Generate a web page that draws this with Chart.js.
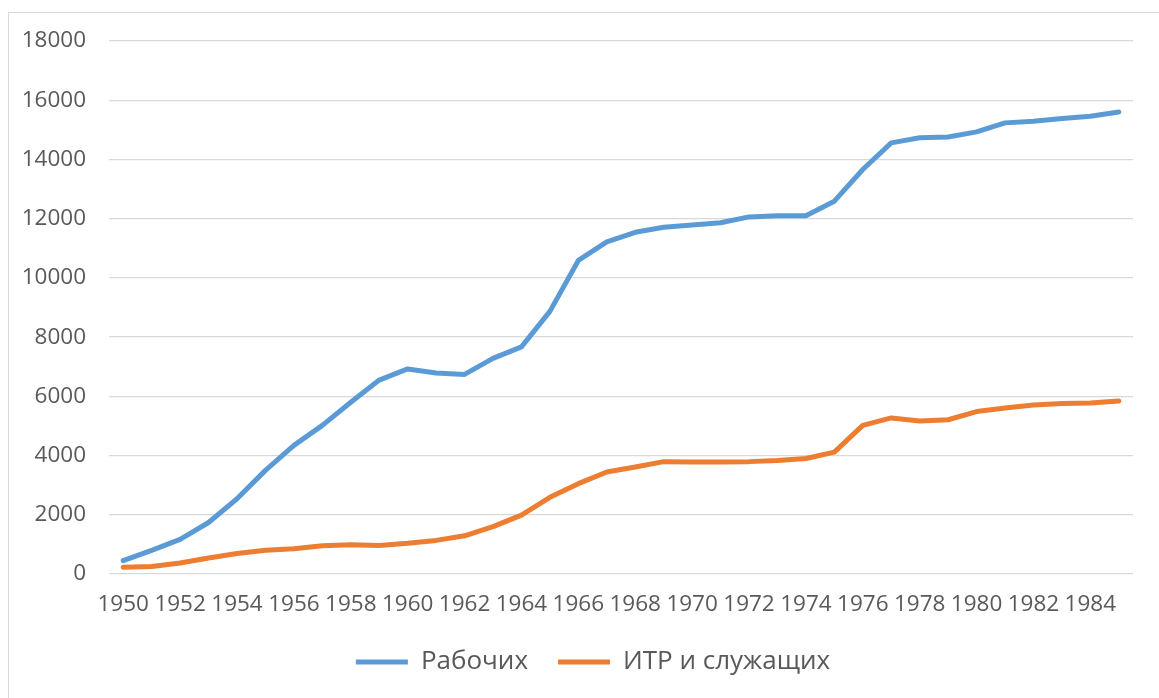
<!DOCTYPE html>
<html>
<head>
<meta charset="utf-8">
<script src="https://cdn.jsdelivr.net/npm/chart.js@4"></script>
<style>
  html, body { margin: 0; padding: 0; background: #fff; overflow: hidden; }
  #frame { position: absolute; left: 8px; top: 12px; width: 1300px; height: 900px; border: 1px solid #d9d9d9; box-sizing: border-box; }
  #wrap { position: absolute; left: 0; top: 0; width: 1159px; height: 698px; }
</style>
</head>
<body>
<div id="frame"></div>
<div id="wrap"><canvas id="c" width="1159" height="698"></canvas></div>
<script>
const years = [1950,1951,1952,1953,1954,1955,1956,1957,1958,1959,1960,1961,1962,1963,1964,1965,1966,1967,1968,1969,1970,1971,1972,1973,1974,1975,1976,1977,1978,1979,1980,1981,1982,1983,1984,1985];
const workers = [450,800,1170,1740,2540,3500,4345,5020,5800,6550,6925,6790,6740,7280,7670,8870,10590,11215,11540,11710,11790,11860,12060,12095,12100,12590,13660,14560,14730,14760,14930,15235,15290,15380,15460,15605];
const employees = [225,250,370,540,690,800,855,955,990,960,1035,1135,1290,1600,1990,2590,3050,3445,3615,3795,3785,3785,3795,3830,3900,4115,5020,5270,5170,5210,5485,5605,5710,5755,5775,5845];
const seriesNames = ['Рабочих', 'ИТР и служащих'];
const yTicks = [0,2000,4000,6000,8000,10000,12000,14000,16000,18000];

const FONT = '"Open Sans", sans-serif';
const TEXT = '#595959';

// shift the legend's centring box so it is centred like the reference
const legendShift = {
  id: 'legendShift',
  afterLayout(chart) { if (chart.legend) { chart.legend.left += 53; } }
};

new Chart(document.getElementById('c'), {
  type: 'line',
  data: {
    labels: years.map(String),
    datasets: [
      { label: seriesNames[0], data: workers, borderColor: '#5B9BD5', backgroundColor: '#5B9BD5',
        borderWidth: 5, pointRadius: 0, tension: 0, borderCapStyle: 'round', borderJoinStyle: 'round' },
      { label: seriesNames[1], data: employees, borderColor: '#ED7D31', backgroundColor: '#ED7D31',
        borderWidth: 5, pointRadius: 0, tension: 0, borderCapStyle: 'round', borderJoinStyle: 'round' }
    ]
  },
  plugins: [legendShift],
  options: {
    responsive: false,
    animation: false,
    layout: { padding: { left: 0, right: 26, top: 41, bottom: 13 } },
    plugins: {
      tooltip: { enabled: false },
      legend: {
        position: 'bottom',
        labels: {
          usePointStyle: true,
          pointStyle: 'line',
          pointStyleWidth: 52,
          padding: 30,
          color: TEXT,
          font: { family: FONT, size: 26 }
        }
      }
    },
    scales: {
      x: {
        type: 'category',
        offset: true,
        grid: { display: false, drawTicks: false },
        border: { display: false },
        afterFit: (s) => { s.height = 45; },
        ticks: {
          autoSkip: false, maxRotation: 0, minRotation: 0, padding: 17,
          color: TEXT, font: { family: FONT, size: 22.5 },
          callback: function(v, i) { return years[i] % 2 === 0 ? String(years[i]) : ''; }
        }
      },
      y: {
        min: 0, max: 18000,
        afterFit: (s) => { s.width = 109; },
        afterBuildTicks: (s) => { s.ticks = yTicks.map(v => ({ value: v })); },
        grid: { color: '#d9d9d9', lineWidth: 1.3, drawTicks: false },
        border: { display: false },
        ticks: { padding: 23, color: TEXT, font: { family: FONT, size: 22.5 },
          callback: (v) => String(v) }
      }
    }
  }
});
</script>
</body>
</html>
